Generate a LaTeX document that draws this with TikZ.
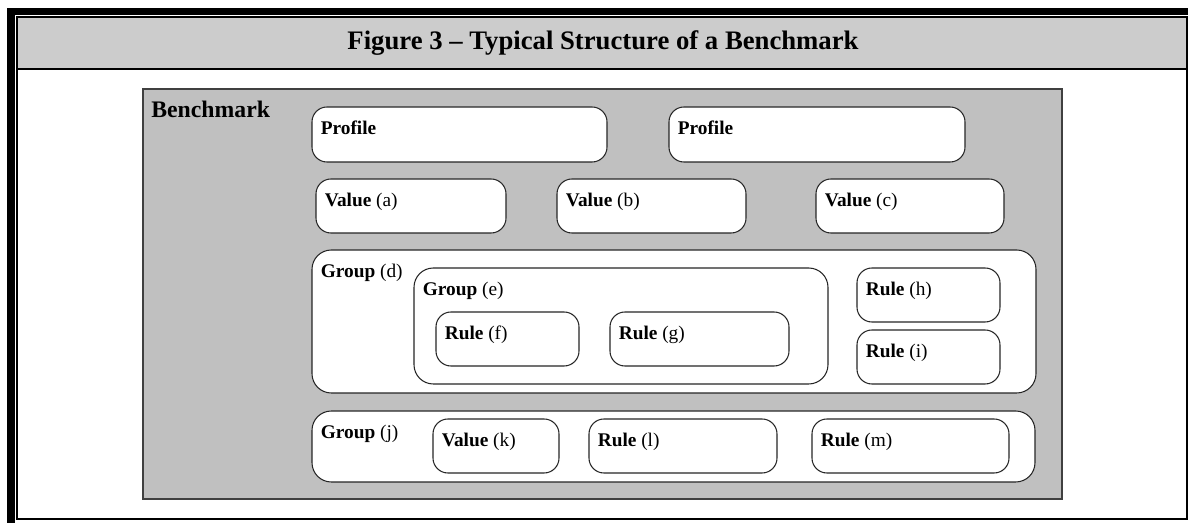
\documentclass[tikz,border=0pt]{standalone}
\usepackage{fontspec}
\setmainfont{Liberation Serif}
\usetikzlibrary{fit}
\definecolor{bandgray}{HTML}{CCCCCC}
\definecolor{benchgray}{HTML}{C0C0C0}
\begin{document}
\begin{tikzpicture}[x=0.02cm, y=-0.02cm,
            box/.style={draw=black!85, fill=white, rounded corners=8.5pt, line width=0.6pt, inner sep=0pt},
            grp/.style={box, rounded corners=11pt},
            lab/.style={anchor=base west, inner sep=0pt, font=\fontsize{11}{13}\selectfont}]
            \useasboundingbox (0,0) rectangle (1188,523);

            % frame and title band
            \fill[black] (7,8) rectangle (1188,15);
            \fill[black] (7,8) rectangle (15,523);
            \fill[bandgray] (17,17) rectangle (1187,69);
            \draw[line width=0.7pt] (17,17) rectangle (1187,519);
            \draw[line width=1pt] (17,69) -- (1187,69);
            \draw[line width=1.4pt] (17,519) -- (1187,519);
            \node[font=\bfseries\fontsize{15.2}{17}\selectfont] (title) at (603,43) {Figure 3 – Typical Structure of a Benchmark};

            \node[fit={(143,89) (1062,499)}, inner sep=0pt, fill=benchgray, draw=black!75, line width=1.1pt] (bench) {};
            \node[lab, font=\bfseries\fontsize{13.5}{15}\selectfont] (benchlab) at ([shift={(9,29)}]bench.north west) {Benchmark};

            \node[box, fit={(312,107) (607,162)}] (p1) {};
            \node[box, fit={(669,107) (965,162)}] (p2) {};
            \node[box, fit={(316,179) (506,233)}] (va) {};
            \node[box, fit={(557,179) (746,233)}] (vb) {};
            \node[box, fit={(816,179) (1004,233)}] (vc) {};

            \node[grp, fit={(312,250) (1036,393)}] (gd) {};
            \node[grp, fit={(414,268) (828,384)}] (ge) {};
            \node[box, fit={(436,312) (579,366)}] (rf) {};
            \node[box, fit={(610,312) (789,366)}] (rg) {};
            \node[box, fit={(857,268) (1000,322)}] (rh) {};
            \node[box, fit={(857,330) (1000,384)}] (ri) {};

            \node[grp, fit={(312,411) (1035,482)}] (gj) {};
            \node[box, fit={(433,419) (559,473)}] (vk) {};
            \node[box, fit={(589,419) (777,473)}] (rl) {};
            \node[box, fit={(812,419) (1009,473)}] (rm) {};

            \node[lab] (p1lab) at ([shift={(9,28)}]p1.north west) {\textbf{Profile}};
            \node[lab] (p2lab) at ([shift={(9,28)}]p2.north west) {\textbf{Profile}};
            \node[lab] (valab) at ([shift={(9,28)}]va.north west) {\textbf{Value} (a)};
            \node[lab] (vblab) at ([shift={(9,28)}]vb.north west) {\textbf{Value} (b)};
            \node[lab] (vclab) at ([shift={(9,28)}]vc.north west) {\textbf{Value} (c)};
            \node[lab] (gdlab) at ([shift={(9,28)}]gd.north west) {\textbf{Group} (d)};
            \node[lab] (gelab) at ([shift={(9,28)}]ge.north west) {\textbf{Group} (e)};
            \node[lab] (rflab) at ([shift={(9,28)}]rf.north west) {\textbf{Rule} (f)};
            \node[lab] (rglab) at ([shift={(9,28)}]rg.north west) {\textbf{Rule} (g)};
            \node[lab] (rhlab) at ([shift={(9,28)}]rh.north west) {\textbf{Rule} (h)};
            \node[lab] (rilab) at ([shift={(9,28)}]ri.north west) {\textbf{Rule} (i)};
            \node[lab] (gjlab) at ([shift={(9,28)}]gj.north west) {\textbf{Group} (j)};
            \node[lab] (vklab) at ([shift={(9,28)}]vk.north west) {\textbf{Value} (k)};
            \node[lab] (rllab) at ([shift={(9,28)}]rl.north west) {\textbf{Rule} (l)};
            \node[lab] (rmlab) at ([shift={(9,28)}]rm.north west) {\textbf{Rule} (m)};
        \end{tikzpicture}
\end{document}
